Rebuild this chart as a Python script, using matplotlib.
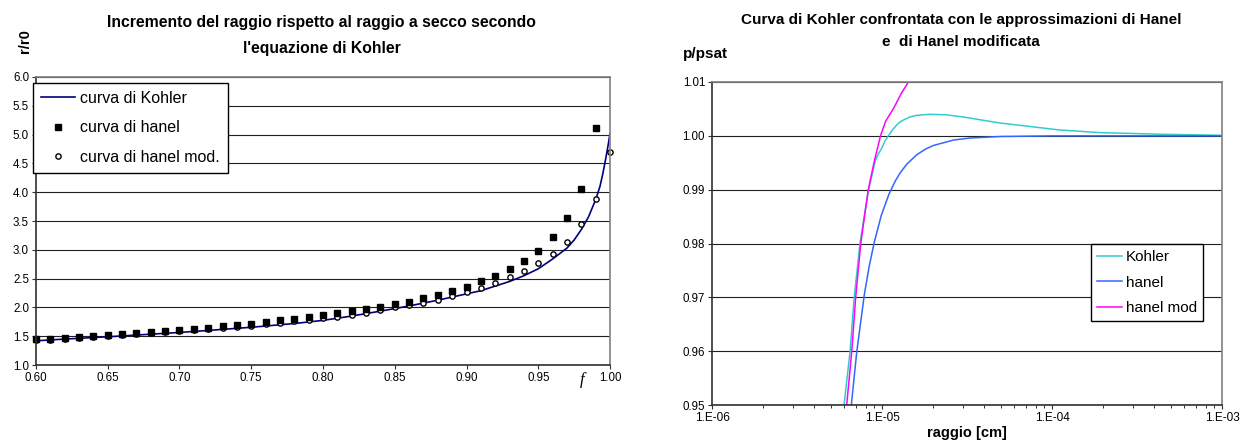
import math
import matplotlib
matplotlib.use('Agg')
import matplotlib.pyplot as plt
from matplotlib.ticker import FixedLocator, FuncFormatter, LogLocator, NullFormatter

plt.rcParams['font.family'] = ['Liberation Sans', 'DejaVu Sans']

# --- rapporto r/r0 in funzione di f ---
f_hanel = [0.60, 0.61, 0.62, 0.63, 0.64, 0.65, 0.66, 0.67, 0.68, 0.69,
           0.70, 0.71, 0.72, 0.73, 0.74, 0.75, 0.76, 0.77, 0.78, 0.79,
           0.80, 0.81, 0.82, 0.83, 0.84, 0.85, 0.86, 0.87, 0.88, 0.89,
           0.90, 0.91, 0.92, 0.93, 0.94, 0.95, 0.96, 0.97, 0.98, 0.99]
r_hanel = [1.45, 1.46, 1.47, 1.49, 1.50, 1.52, 1.54, 1.56, 1.57, 1.59,
           1.61, 1.63, 1.65, 1.67, 1.69, 1.72, 1.75, 1.78, 1.80, 1.83,
           1.86, 1.90, 1.94, 1.97, 2.01, 2.06, 2.10, 2.16, 2.21, 2.28,
           2.36, 2.45, 2.55, 2.67, 2.80, 2.98, 3.22, 3.55, 4.06, 5.12]

f_hanel_mod = f_hanel + [1.00]
r_hanel_mod = [1.43, 1.44, 1.46, 1.47, 1.49, 1.50, 1.52, 1.53, 1.55, 1.57,
               1.59, 1.60, 1.62, 1.64, 1.66, 1.68, 1.71, 1.73, 1.76, 1.78,
               1.81, 1.83, 1.87, 1.91, 1.95, 2.00, 2.04, 2.08, 2.13, 2.19,
               2.26, 2.33, 2.42, 2.52, 2.63, 2.77, 2.93, 3.14, 3.44, 3.88,
               4.69]

f_kohler = [0.60, 0.62, 0.65, 0.68, 0.70, 0.72, 0.75, 0.78, 0.80, 0.82,
            0.84, 0.86, 0.87, 0.88, 0.89, 0.90, 0.91, 0.92, 0.93, 0.94,
            0.95, 0.96, 0.97, 0.975, 0.98, 0.985, 0.99, 0.993, 0.995,
            0.997, 0.999, 1.000]
r_kohler = [1.42, 1.45, 1.49, 1.535, 1.565, 1.60, 1.655, 1.72, 1.775, 1.85,
            1.935, 2.025, 2.075, 2.125, 2.18, 2.235, 2.29, 2.37, 2.45, 2.55,
            2.67, 2.84, 3.03, 3.17, 3.35, 3.57, 3.87, 4.10, 4.32,
            4.58, 4.86, 5.02]

# --- p/psat in funzione del raggio [cm] ---
raggio_kohler = [5.98e-6, 6.49e-6, 6.86e-6, 7.42e-6, 7.9e-6, 8.35e-6, 9.1e-6,
                 9.5e-6, 1.0e-5, 1.04e-5, 1.09e-5, 1.15e-5, 1.22e-5, 1.28e-5,
                 1.35e-5, 1.46e-5, 1.6e-5, 1.91e-5, 2.4e-5, 3.0e-5, 4.9e-5,
                 1.1e-4, 1.9e-4, 4.3e-4, 1.0e-3]
p_kohler = [0.950, 0.960, 0.970, 0.980, 0.9855, 0.990, 0.9952,
            0.9966, 0.9978, 0.9990, 1.0000, 1.0011, 1.0020, 1.0026,
            1.0030, 1.0035, 1.0038, 1.0040, 1.0039, 1.0035, 1.0024,
            1.0011, 1.0006, 1.0003, 1.0001]

raggio_hanel = [6.6e-6, 7.1e-6, 7.87e-6, 8.4e-6, 9.0e-6, 9.9e-6, 1.1e-5,
                1.2e-5, 1.28e-5, 1.4e-5, 1.6e-5, 1.8e-5, 2.0e-5, 2.63e-5,
                3.3e-5, 5.0e-5, 1.0e-4, 1.0e-3]
p_hanel = [0.950, 0.9598, 0.9705, 0.9757, 0.9802, 0.9852, 0.9892,
           0.99167, 0.99313, 0.99475, 0.99648, 0.99753, 0.9982, 0.99921,
           0.9996, 0.99988, 0.99999, 1.0000]

raggio_hanel_mod = [6.2e-6, 6.64e-6, 7.0e-6, 7.5e-6, 8.3e-6, 9.0e-6, 9.8e-6,
                    1.05e-5, 1.17e-5, 1.3e-5, 1.43e-5]
p_hanel_mod = [0.950, 0.960, 0.970, 0.980, 0.990, 0.9952, 1.000,
               1.0027, 1.0051, 1.0079, 1.010]

W, H = 1252, 442
fig = plt.figure(figsize=(W / 100, H / 100), dpi=100)


def px_axes(x0, y0, x1, y1):
    return fig.add_axes([x0 / W, 1 - y1 / H, (x1 - x0) / W, (y1 - y0) / H])


def excel_frame(ax):
    for side in ('top', 'right'):
        ax.spines[side].set_color('#808080')
        ax.spines[side].set_linewidth(1.2)
    for side in ('left', 'bottom'):
        ax.spines[side].set_color('#303030')
        ax.spines[side].set_linewidth(1.2)
    ax.tick_params(direction='out', length=3, width=0.8, color='#303030', pad=2)
    ax.grid(axis='y', color='#202020', linewidth=0.8)
    ax.set_axisbelow(True)


# ---------------- grafico a sinistra ----------------
ax1 = px_axes(36, 77, 610, 365)
excel_frame(ax1)
ax1.plot(f_kohler, r_kohler, color='#000080', lw=1.2, label='curva di Kohler', zorder=2)
ax1.plot(f_hanel_mod, r_hanel_mod, 'o', ms=3.8, mfc='white', mec='black', mew=1.0,
         label='curva di hanel mod.', clip_on=False, zorder=2.2)
ax1.plot(f_hanel, r_hanel, 's', ms=4.8, color='black', label='curva di hanel',
         clip_on=False, zorder=2.3)
ax1.set_xlim(0.60, 1.00)
ax1.set_ylim(1.0, 6.0)
ax1.xaxis.set_major_locator(FixedLocator([0.60, 0.65, 0.70, 0.75, 0.80, 0.85, 0.90, 0.95, 1.00]))
ax1.yaxis.set_major_locator(FixedLocator([1.0, 1.5, 2.0, 2.5, 3.0, 3.5, 4.0, 4.5, 5.0, 5.5, 6.0]))
ax1.xaxis.set_major_formatter(FuncFormatter(lambda v, p: '%.2f' % v))
ax1.yaxis.set_major_formatter(FuncFormatter(lambda v, p: '%.1f' % v))
ax1.tick_params(labelsize=8.3)

h, l = ax1.get_legend_handles_labels()
order = [0, 2, 1]
leg1 = ax1.legend([h[i] for i in order], [l[i] for i in order],
                  loc='upper left', bbox_to_anchor=(33 / W, 1 - 83 / H),
                  bbox_transform=fig.transFigure, borderaxespad=0,
                  fontsize=11.5, frameon=True, fancybox=False, framealpha=1,
                  edgecolor='black', handlelength=2.1, handletextpad=0.35,
                  labelspacing=0.9, borderpad=0.5)
leg1.get_frame().set_linewidth(1.0)

fig.text(321 / W, 1 - 23 / H, 'Incremento del raggio rispetto al raggio a secco secondo',
         ha='center', va='center', fontsize=11.3, fontweight='bold')
fig.text(322 / W, 1 - 48 / H, "l'equazione di Kohler",
         ha='center', va='center', fontsize=11.3, fontweight='bold')
fig.text(25 / W, 1 - 41 / H, 'r/r0', rotation=90, ha='center', va='center',
         fontsize=10.5, fontweight='bold')
fig.text(582 / W, 1 - 380 / H, 'f', ha='center', va='center', fontsize=12,
         style='italic', family='Liberation Serif')

# ---------------- grafico a destra ----------------
ax2 = px_axes(712, 82, 1222, 405)
excel_frame(ax2)
ax2.plot(raggio_kohler, p_kohler, color='#33CCCC', lw=1.1, label='Kohler')
ax2.plot(raggio_hanel, p_hanel, color='#3366FF', lw=1.1, label='hanel')
ax2.plot(raggio_hanel_mod, p_hanel_mod, color='#FF00FF', lw=1.1, label='hanel mod')
ax2.set_xscale('log')
ax2.set_xlim(1e-6, 1e-3)
ax2.set_ylim(0.95, 1.01)
ax2.yaxis.set_major_locator(FixedLocator([0.95, 0.96, 0.97, 0.98, 0.99, 1.00, 1.01]))
ax2.yaxis.set_major_formatter(FuncFormatter(lambda v, p: '%.2f' % v))
ax2.xaxis.set_major_locator(FixedLocator([1e-6, 1e-5, 1e-4, 1e-3]))
ax2.xaxis.set_major_formatter(FuncFormatter(lambda v, p: '1.E%03d' % round(math.log10(v))))
ax2.xaxis.set_minor_locator(LogLocator(base=10, subs=range(2, 10)))
ax2.xaxis.set_minor_formatter(NullFormatter())
ax2.tick_params(which='minor', direction='out', length=2.5, width=0.7, color='#303030')
ax2.tick_params(axis='y', labelsize=8.3)
ax2.tick_params(axis='x', labelsize=8.5)

leg2 = ax2.legend(loc='upper left', bbox_to_anchor=(1091 / W, 1 - 244 / H),
                  bbox_transform=fig.transFigure, borderaxespad=0,
                  fontsize=11, frameon=True, fancybox=False, framealpha=1,
                  edgecolor='black', handlelength=1.6, handletextpad=0.3,
                  labelspacing=0.75, borderpad=0.4)
leg2.get_frame().set_linewidth(1.0)

fig.text(961 / W, 1 - 20 / H, 'Curva di Kohler confrontata con le approssimazioni di Hanel',
         ha='center', va='center', fontsize=11, fontweight='bold')
fig.text(961 / W, 1 - 42 / H, 'e  di Hanel modificata',
         ha='center', va='center', fontsize=11, fontweight='bold')
fig.text(683 / W, 1 - 54 / H, 'p/psat', ha='left', va='center',
         fontsize=11, fontweight='bold')
fig.text(967 / W, 1 - 433 / H, 'raggio [cm]', ha='center', va='center',
         fontsize=10.5, fontweight='bold')

fig.savefig('out.png', dpi=100)
